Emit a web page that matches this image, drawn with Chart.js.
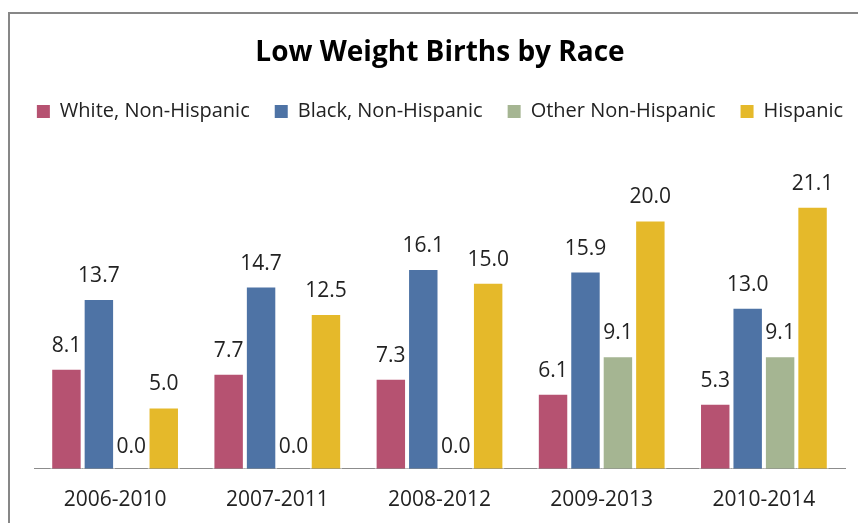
<!DOCTYPE html>
<html>
<head>
<meta charset="utf-8">
<title>Low Weight Births by Race</title>
<script src="https://cdn.jsdelivr.net/npm/chart.js@4/dist/chart.umd.min.js"></script>
<style>
    html, body { margin: 0; padding: 0; background: #fff; overflow: hidden; }
    .chart-frame {
        position: absolute;
        left: 8px;
        top: 12px;
        width: 880px;
        height: 540px;
        border-left: 2px solid #878787;
        border-top: 2px solid #878787;
    }
    #births-chart { display: block; }
</style>
</head>
<body>
<div class="chart-frame">
    <canvas id="births-chart" width="860" height="530"></canvas>
</div>
<script>
const periods = ['2006-2010', '2007-2011', '2008-2012', '2009-2013', '2010-2014'];
const raceNames = ['White, Non-Hispanic', 'Black, Non-Hispanic', 'Other Non-Hispanic', 'Hispanic'];
const whiteNH = [8.1, 7.7, 7.3, 6.1, 5.3];
const blackNH = [13.7, 14.7, 16.1, 15.9, 13.0];
const otherNH = [0.0, 0.0, 0.0, 9.1, 9.1];
const hispanic = [5.0, 12.5, 15.0, 20.0, 21.1];
const raceColors = ['#B65271', '#4E73A5', '#A5B592', '#E5B92A'];

const FONT = '"Open Sans", "Noto Sans", sans-serif';
const TEXT = '#222222';

// value labels drawn above every bar
const barValues = {
    id: 'barValues',
    afterDatasetsDraw: function(chart) {
        const ctx = chart.ctx;
        ctx.save();
        ctx.font = '21px ' + FONT;
        ctx.fillStyle = TEXT;
        ctx.textAlign = 'center';
        ctx.textBaseline = 'alphabetic';
        chart.data.datasets.forEach((ds, i) => {
            chart.getDatasetMeta(i).data.forEach((bar, j) => {
                ctx.fillText(ds.data[j].toFixed(1), bar.x, bar.y - 16);
            });
        });
        ctx.restore();
    }
};

// invisible side axes: they only reserve margin beside the plot,
// so the legend still gets the full canvas width for one row
function spacerAxis(position, width) {
    return {
        position: position,
        display: true,
        grid: { display: false, drawTicks: false },
        border: { display: false },
        ticks: { display: false },
        afterFit: function(scale) { scale.width = width; }
    };
}

const series = [whiteNH, blackNH, otherNH, hispanic];

new Chart(document.getElementById('births-chart'), {
    type: 'bar',
    data: {
        labels: periods,
        datasets: series.map((values, i) => ({
            label: raceNames[i],
            data: values,
            backgroundColor: raceColors[i],
            borderColor: '#ffffff',
            borderWidth: 2,
            barPercentage: 1.0,
            categoryPercentage: 0.8
        }))
    },
    options: {
        responsive: false,
        animation: false,
        layout: { padding: { left: 0, right: 0, top: 0, bottom: 12 } },
        plugins: {
            title: {
                display: true,
                text: 'Low Weight Births by Race',
                color: '#000',
                font: { family: FONT, size: 28, weight: 'bold' },
                padding: { top: 22, bottom: 7 }
            },
            legend: {
                position: 'top',
                labels: {
                    color: TEXT,
                    font: { family: FONT, size: 20 },
                    boxWidth: 13,
                    boxHeight: 13,
                    padding: 25,
                    // plain squares, no white outline on the swatches
                    generateLabels: function(chart) {
                        const items = Chart.defaults.plugins.legend.labels.generateLabels(chart);
                        items.forEach(item => { item.lineWidth = 0; });
                        return items;
                    }
                }
            },
            tooltip: { enabled: false }
        },
        scales: {
            x: {
                grid: { display: false, drawTicks: false },
                border: { display: true, color: '#8c8c8c', width: 1 },
                ticks: { color: TEXT, font: { family: FONT, size: 21 }, padding: 19 }
            },
            y: Object.assign(spacerAxis('left', 24), { min: 0, max: 27.05 }),
            yRight: Object.assign(spacerAxis('right', 25), { min: 0, max: 1 })
        }
    },
    plugins: [barValues]
});
</script>
</body>
</html>
